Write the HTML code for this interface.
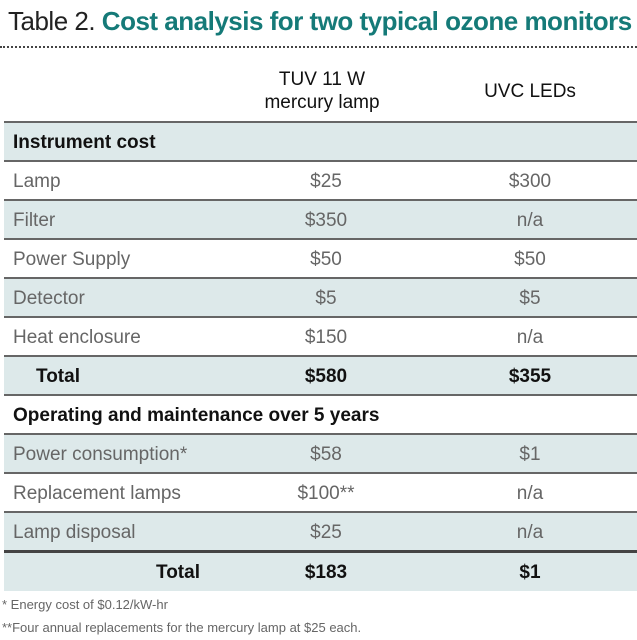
<!DOCTYPE html>
<html><head><meta charset="utf-8"><style>
body{margin:0;width:637px;height:640px;background:#fff;font-family:"Liberation Sans",sans-serif;position:relative;overflow:hidden}
.t{position:absolute;left:8px;top:6px;font-size:26px;letter-spacing:-0.5px;color:#222;white-space:nowrap}
.t span{color:#157a78;font-weight:bold}
.dot{position:absolute;left:0;top:46px;width:637px;border-top:2px dotted #444}
.row{position:absolute;left:4px;width:633px;height:39px;line-height:39px;font-size:19px;color:#666;border-top:2px solid #666;box-sizing:border-box}
.sh{background:#dde9ea}
.c1{position:absolute;left:9px}
.c2{position:absolute;left:222px;width:200px;text-align:center}
.c3{position:absolute;left:426px;width:200px;text-align:center}
.b{color:#111;font-weight:bold}
.hd{position:absolute;top:68px;font-size:19px;color:#111;text-align:center;line-height:23px}
.fn{position:absolute;left:2px;font-size:13px;color:#666}
</style></head><body>
<div class="t">Table 2. <span>Cost analysis for two typical ozone monitors</span></div>
<div class="dot"></div>
<div class="hd" style="left:222px;width:200px">TUV 11 W<br>mercury lamp</div>
<div class="hd" style="left:430px;width:200px;top:80px">UVC LEDs</div>

<div class="row sh b" style="top:121px"><span class="c1">Instrument cost</span></div>
<div class="row" style="top:160px"><span class="c1">Lamp</span><span class="c2">$25</span><span class="c3">$300</span></div>
<div class="row sh" style="top:199px"><span class="c1">Filter</span><span class="c2">$350</span><span class="c3">n/a</span></div>
<div class="row" style="top:238px"><span class="c1">Power Supply</span><span class="c2">$50</span><span class="c3">$50</span></div>
<div class="row sh" style="top:277px"><span class="c1">Detector</span><span class="c2">$5</span><span class="c3">$5</span></div>
<div class="row" style="top:316px"><span class="c1">Heat enclosure</span><span class="c2">$150</span><span class="c3">n/a</span></div>
<div class="row sh b" style="top:355px"><span class="c1" style="left:32px">Total</span><span class="c2">$580</span><span class="c3">$355</span></div>
<div class="row b" style="top:394px"><span class="c1">Operating and maintenance over 5 years</span></div>
<div class="row sh" style="top:433px"><span class="c1">Power consumption*</span><span class="c2">$58</span><span class="c3">$1</span></div>
<div class="row" style="top:472px"><span class="c1">Replacement lamps</span><span class="c2">$100**</span><span class="c3">n/a</span></div>
<div class="row sh" style="top:511px"><span class="c1">Lamp disposal</span><span class="c2">$25</span><span class="c3">n/a</span></div>
<div class="row sh b" style="top:550px;height:41px;border-top-width:3px;border-top-color:#444"><span class="c1" style="left:152px">Total</span><span class="c2">$183</span><span class="c3">$1</span></div>

<div class="fn" style="top:597px">* Energy cost of $0.12/kW-hr</div>
<div class="fn" style="top:620px">**Four annual replacements for the mercury lamp at $25 each.</div>
</body></html>
